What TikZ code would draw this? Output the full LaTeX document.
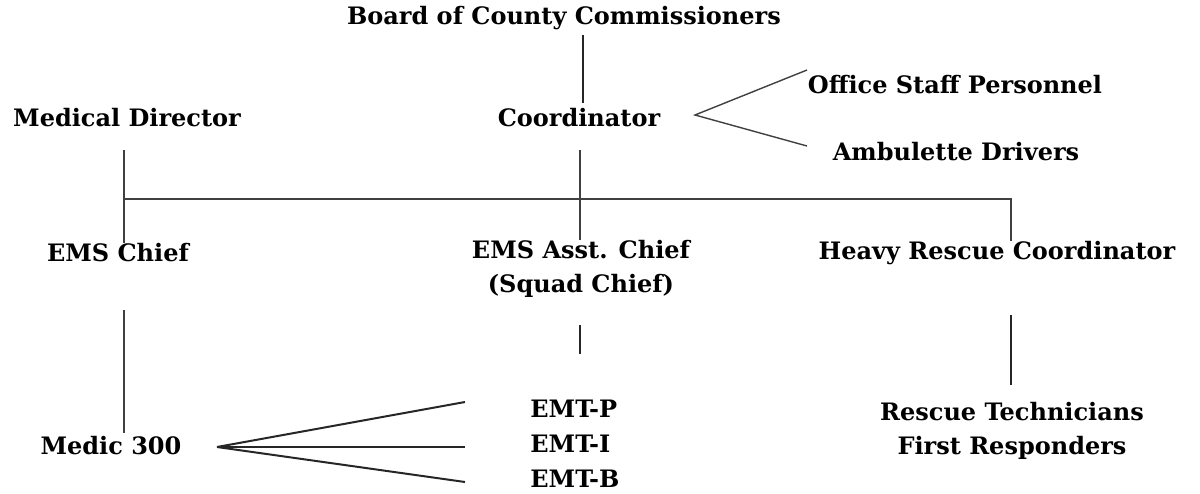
\documentclass[tikz,border=0pt]{standalone}
\usepackage{fontspec}
\setmainfont{DejaVu Serif}
\usetikzlibrary{positioning}

\begin{document}
\begin{tikzpicture}[x=0.5pt, y=-0.5pt, font=\bfseries\fontsize{12}{14}\selectfont,
	every node/.style={inner sep=0pt, align=center}]
	\tikzstyle{link}=[draw=black!85, line width=1pt]
	\tikzstyle{thin link}=[draw=black!75, line width=0.7pt]
	\useasboundingbox (0,0) rectangle (1200,493);

	\node(board) at (564,18){Board of County Commissioners};
	\node(coord) at (579,118){Coordinator};
	\node(meddir) at (127,118){Medical Director};
	\node(office) at (955,85){Office Staff Personnel};
	\node(amb) at (956,152){Ambulette Drivers};
	\node(chief) at (118,253){EMS Chief};
	\node(asst) at (581,269){EMS Asst. Chief\\[3pt](Squad Chief)};
	\node(heavy) at (997,253){Heavy Rescue Coordinator};
	\node(medic) at (111,446){Medic 300};
	\node(emtp)[anchor=west] at (530,409){EMT-P};
	\node(emti)[below=17.5pt of emtp.west, anchor=west]{EMT-I};
	\node(emtb)[below=17.5pt of emti.west, anchor=west]{EMT-B};
	\node(tech) at (1012,431){Rescue Technicians\\[3pt]First Responders};

	\coordinate(fanC) at (695,115);
	\coordinate(fanM) at (217,447);
	\coordinate(barL) at (124,199);
	\coordinate(barR) at (1011,199);

	\draw[link] (583,35) -- (583,103);
	\draw[thin link] (807,70) -- (fanC) -- (807,146);
	\draw[thin link] (barL |- 0,150) -- (barL |- chief.north);
	\draw[thin link] (580,150) -- (580,240);
	\draw[thin link] (barL) -- (barR) -- (barR |- heavy.north);
	\draw[thin link] (124,310) -- (124,433);
	\draw[link] (580,325) -- (580,354);
	\draw[link] (1011,315) -- (1011,385);
	\draw[link] (fanM) -- (465,402);
	\draw[link] (fanM) -- (465,447);
	\draw[link] (fanM) -- (465,482);
\end{tikzpicture}
\end{document}
